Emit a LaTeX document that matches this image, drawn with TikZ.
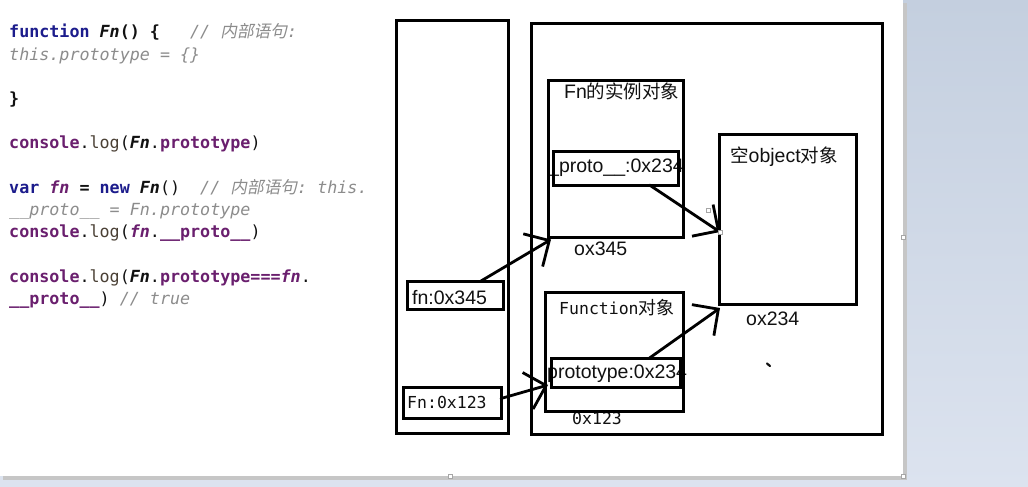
\documentclass[tikz,border=0pt]{standalone}
\usepackage{fontspec}
\usetikzlibrary{arrows.meta}
\setmonofont{DejaVu Sans Mono}
\newfontfamily\dsans{Liberation Sans}
\newfontfamily\cjk{Noto Sans CJK SC}[AutoFakeSlant=0.2]
\definecolor{kwc}{HTML}{1C1C8C}
\definecolor{puc}{HTML}{6A1F6E}
\definecolor{cmc}{HTML}{8C8C8C}
\definecolor{logc}{HTML}{4A4035}
\definecolor{inkc}{HTML}{111111}
\definecolor{bgtop}{HTML}{C4CFDF}
\definecolor{bgbot}{HTML}{DCE3EF}
\newcommand\kwd[1]{\textcolor{kwc}{\bfseries #1}}
\newcommand\pur[1]{\textcolor{puc}{\bfseries #1}}
\newcommand\puri[1]{\textcolor{puc}{\bfseries\itshape #1}}
\newcommand\cmt[1]{\textcolor{cmc}{\itshape #1}}
\newcommand\logword{\textcolor{logc}{log}}
\newcommand\FnI{{\bfseries\itshape Fn}}
\tikzset{
  codeline/.style={anchor=base west, inner sep=0pt, font=\ttfamily\fontsize{16.7}{20}\selectfont, text=inkc},
  box/.style={draw=black, line width=3pt, anchor=north west, inner sep=0pt, outer sep=0pt},
  lbl/.style={anchor=base west, inner sep=0pt, font=\dsans\fontsize{19.5}{22}\selectfont, text=inkc},
  mlbl/.style={anchor=base west, inner sep=0pt, font=\ttfamily\fontsize{16.5}{20}\selectfont, text=inkc},
  conn/.style={line width=2.8pt, line cap=round, -{Straight Barb[length=19pt,width=38pt,line width=2.8pt]}},
  handle/.style={draw=gray!70, fill=white, line width=0.6pt}
}
\begin{document}
\begin{tikzpicture}[x=1pt,y=-1pt]
\useasboundingbox (0,0) rectangle (1028,487);
% screen background and canvas
\shade[top color=bgtop, bottom color=bgbot] (0,0) rectangle (1028,487);
\fill[gray!45] (903,3) rectangle (907,480);
\fill[gray!45] (3,476) rectangle (907,480);
\fill[white] (0,0) rectangle (903,476);
\draw[handle] (901.5,235.5) rectangle (905.5,239.5);
\draw[handle] (901.5,474.5) rectangle (905.5,478.5);
\draw[handle] (448,474.5) rectangle (452,478.5);

% code
\node[codeline] (c1) at (9,38) {\kwd{function} \FnI\textbf{() \{}\ \ \ \cmt{// {\cjk 内部语句}:}};
\node[codeline] (c2) at (9,60) {\cmt{this.prototype = \{\}}};
\node[codeline] (c3) at (9,104) {\textbf{\}}};
\node[codeline] (c4) at (9,148) {\pur{console}.\logword(\FnI.\pur{prototype})};
\node[codeline] (c5) at (9,193) {\kwd{var} \puri{fn} \textbf{=} \kwd{new} \FnI()\ \ \cmt{// {\cjk 内部语句}: this.}};
\node[codeline] (c6) at (9,215) {\cmt{\_\_proto\_\_ = Fn.prototype}};
\node[codeline] (c7) at (9,237) {\pur{console}.\logword(\puri{fn}.\pur{\_\_proto\_\_})};
\node[codeline] (c8) at (9,282) {\pur{console}.\logword(\FnI.\pur{prototype===}\puri{fn}.};
\node[codeline] (c9) at (9,304) {\pur{\_\_proto\_\_}) \cmt{// true}};

% labels (drawn first: box borders lie over them)
\node[lbl] (tinst) at (564,99) {Fn{\cjk\fontsize{18.5}{22}\selectfont 的实例对象}};
\node[lbl] (tproto) at (548,172) {\_proto\_\_:0x234};
\node[lbl] (a345) at (574,255) {ox345};
\node[lbl] (tobj) at (730,162) {{\cjk\fontsize{18.5}{22}\selectfont 空}object{\cjk\fontsize{18.5}{22}\selectfont 对象}};
\node[lbl] (a234) at (746,325) {ox234};
\node[mlbl] (tfunc) at (559,314) {Function{\cjk\fontsize{18}{22}\selectfont 对象}};
\node[lbl] (tptype) at (547,378) {prototype:0x234};
\node[mlbl] (a123) at (572,424) {0x123};
\node[lbl] (tfnv) at (412,304) {fn:0x345};
\node[mlbl] (tFnv) at (407,408) {Fn:0x123};

% memory boxes
\node[box, minimum width=112pt, minimum height=412pt] (stack) at (396,21) {};
\node[box, minimum width=351pt, minimum height=410pt] (heap) at (531,24) {};
\node[box, minimum width=135pt, minimum height=157pt] (inst) at (548,80.5) {};
\node[box, minimum width=125pt, minimum height=34pt] (proto) at (553,151) {};
\node[box, minimum width=137pt, minimum height=170pt] (obj) at (719,134) {};
\node[box, minimum width=138pt, minimum height=119pt] (func) at (545.5,292) {};
\node[box, minimum width=129pt, minimum height=29pt] (ptype) at (551,358) {};
\node[box, minimum width=96pt, minimum height=28pt] (fnv) at (407,281) {};
\node[box, minimum width=98pt, minimum height=31pt] (Fnv) at (403,387) {};

% stray mark
\draw[inkc, line width=2.2pt, line cap=round] (767,363.5) -- (770,366);

% connectors
\draw[conn] ([xshift=26pt]fnv.north) -- ([xshift=3pt,yshift=-2pt]inst.south west);
\draw[conn] ([xshift=34pt]proto.south) -- ([xshift=1pt,yshift=-13pt]obj.west);
\draw[conn] ([yshift=4pt]Fnv.east) -- ([xshift=-3pt,yshift=2pt]ptype.south west);
\draw[conn] ([xshift=34pt]ptype.north) -- ([xshift=1pt,yshift=-4pt]obj.south west);
\draw[handle] (706,208) rectangle (710,212);
\draw[handle] (718,230) rectangle (722,234);
\end{tikzpicture}
\end{document}
